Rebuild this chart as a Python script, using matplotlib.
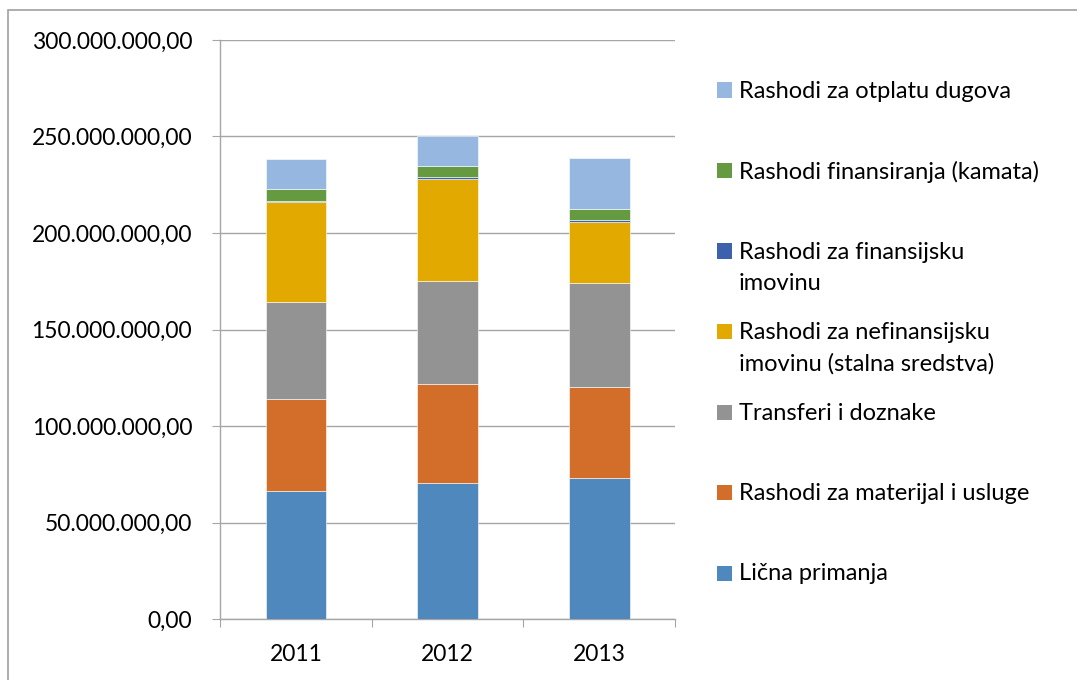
import matplotlib.pyplot as plt
import numpy as np
from matplotlib.patches import Rectangle
from matplotlib.ticker import FuncFormatter, FixedLocator

plt.rcParams["font.family"] = ["Lato", "DejaVu Sans"]

years = ["2011", "2012", "2013"]

# values in millions, bottom to top of each stack
licna_primanja = [66.2, 70.3, 73.2]
materijal_usluge = [47.6, 51.3, 47.0]
transferi = [50.6, 53.4, 53.7]
nefinansijska = [51.6, 53.1, 31.8]
finansijska = [0.7, 1.1, 1.2]
kamate = [5.9, 5.3, 5.7]
otplata_dugova = [15.7, 15.7, 26.1]

series_names = [
    "Lična primanja",
    "Rashodi za materijal i usluge",
    "Transferi i doznake",
    "Rashodi za nefinansijsku\nimovinu (stalna sredstva)",
    "Rashodi za finansijsku\nimovinu",
    "Rashodi finansiranja (kamata)",
    "Rashodi za otplatu dugova",
]
series_values = [licna_primanja, materijal_usluge, transferi, nefinansijska,
                 finansijska, kamate, otplata_dugova]
colors = ["#4F88BD", "#D26E2A", "#939393", "#E2A900", "#3D62AD", "#659A40", "#96B8E0"]

fig = plt.figure(figsize=(10.77, 6.8), dpi=100)
ax = fig.add_axes([220 / 1077, 61 / 680, 455 / 1077, 579 / 680])

x = np.arange(len(years))
bottom = np.zeros(len(years))
for vals, col in zip(series_values, colors):
    v = np.array(vals) * 1e6
    ax.bar(x, v, 0.4, bottom=bottom, color=col, edgecolor="#FFFFFF", linewidth=0.4, zorder=3)
    bottom += v

ax.set_xlim(-0.5, 2.5)
ax.set_ylim(0, 300e6)
ax.set_yticks(np.arange(0, 300e6 + 1, 50e6))


def fmt(v, pos):
    s = f"{v:,.2f}"
    return s.replace(",", "X").replace(".", ",").replace("X", ".")


ax.yaxis.set_major_formatter(FuncFormatter(fmt))
ax.grid(axis="y", color="#A6A6A6", linewidth=1.0, zorder=0)

# category boundary ticks, labels at centers
ax.xaxis.set_major_locator(FixedLocator([-0.5, 0.5, 1.5, 2.5]))
ax.xaxis.set_minor_locator(FixedLocator(x))
ax.set_xticklabels([])
ax.set_xticklabels(years, minor=True)
ax.tick_params(axis="x", which="major", length=6, color="#A6A6A6", direction="out")
ax.tick_params(axis="x", which="minor", length=0, pad=18, labelsize=16.5)
ax.tick_params(axis="y", length=6, color="#A6A6A6", pad=14, labelsize=16.5)

for side in ["top", "right"]:
    ax.spines[side].set_visible(False)
for side in ["left", "bottom"]:
    ax.spines[side].set_color("#A6A6A6")
    ax.spines[side].set_linewidth(1.0)

# legend, top entry first
for i, (name, col) in enumerate(zip(series_names[::-1], colors[::-1])):
    yc = 90 + i * 80.5
    fig.patches.append(Rectangle((717 / 1077, 1 - (yc + 7.5) / 680), 15 / 1077, 15 / 680,
                                 transform=fig.transFigure, facecolor=col, edgecolor="none"))
    fig.text(739 / 1077, 1 - (yc - 9.5) / 680, name, fontsize=17, va="top", ha="left",
             linespacing=1.6, color="#000000")

# outer chart border
fig.patches.append(Rectangle((8 / 1077, -0.1), 1.2, 1.1 - 10 / 680, transform=fig.transFigure,
                             facecolor="none", edgecolor="#A0A0A0", linewidth=1.2))

fig.savefig("out.png", dpi=100)
